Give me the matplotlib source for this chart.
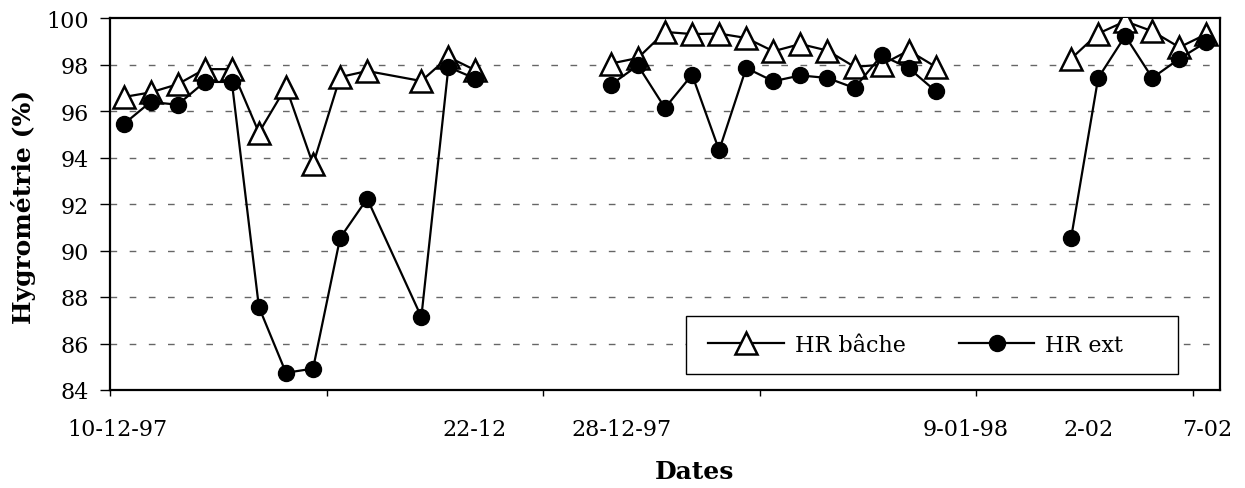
import numpy as np
import matplotlib
matplotlib.use("Agg")
import matplotlib.pyplot as plt
from matplotlib.patches import Rectangle

plt.rcParams['font.family'] = ['DejaVu Serif']

# ---- data ----
# category index of each measurement on the chart (None = break between periods)
cat_index = [0, 1, 2, 3, 4, 5, 6, 7, 8, 9, 11, 12, 13, None,
             18, 19, 20, 21, 22, 23, 24, 25, 26, 27, 28, 29, 30, None,
             35, 36, 37, 38, 39, 40]
hr_bache = [96.6, 96.8, 97.15, 97.8, 97.8, 95.07, 97.03, 93.7, 97.46, 97.72, 97.29, 98.32, 97.75, None,
            98.04, 98.28, 99.4, 99.31, 99.33, 99.14, 98.57, 98.88, 98.6, 97.9, 97.99, 98.6, 97.9, None,
            98.25, 99.33, 99.86, 99.43, 98.74, 99.31]
hr_ext = [95.43, 96.39, 96.27, 97.25, 97.25, 87.57, 84.74, 84.92, 90.54, 92.23, 87.14, 97.89, 97.39, None,
          97.13, 97.96, 96.13, 97.56, 94.31, 97.85, 97.28, 97.53, 97.42, 96.99, 98.39, 97.85, 96.85, None,
          90.54, 97.42, 99.23, 97.42, 98.25, 98.97]
n_categories = 41
date_labels = ["10-12-97", "22-12", "28-12-97", "9-01-98", "2-02", "7-02"]
date_label_pos = [-0.24, 12.95, 18.41, 31.12, 35.63, 40.02]
y_ticks = [84, 86, 88, 90, 92, 94, 96, 98, 100]

def arr(v):
    return np.array([np.nan if a is None else a for a in v], dtype=float)

x = arr(cat_index)
yb = arr(hr_bache)
ye = arr(hr_ext)

fig = plt.figure(figsize=(12.45, 4.89), dpi=100)
ax = fig.add_axes([110/1245, 1 - 391/489, 1110/1245, 372/489])

ax.plot(x, yb, color='black', lw=1.6, marker='^', ms=15.5, mfc='white', mec='black', mew=1.8,
        label='HR bâche', zorder=3)
ax.plot(x, ye, color='black', lw=1.6, marker='o', ms=11.5, mfc='black', mec='black',
        label='HR ext', zorder=4)

ax.set_xlim(-0.5, n_categories - 0.5)
ax.set_ylim(84, 100)
ax.set_yticks(y_ticks)
ax.set_yticklabels([str(v) for v in y_ticks], fontsize=16)
for v in y_ticks[1:-1]:
    ax.axhline(v, color='#666666', lw=1.0, ls=(0, (4.8, 9)), zorder=1)

ax.set_xticks(np.arange(-0.5, n_categories, 8))
ax.set_xticklabels([])
ax.set_xticks(date_label_pos, minor=True)
ax.set_xticklabels(date_labels, minor=True, fontsize=16)
ax.tick_params(axis='x', which='major', direction='out', length=4, width=1)
ax.tick_params(axis='x', which='minor', length=0, pad=20)
ax.tick_params(axis='y', which='major', direction='out', length=7, width=1, pad=8)

for s in ax.spines.values():
    s.set_linewidth(1.6)
    s.set_color('black')

ax.set_ylabel('Hygrométrie (%)', fontsize=18, fontweight='bold')
ax.yaxis.set_label_coords(-0.0665, 0.496)
ax.set_xlabel('Dates', fontsize=18, fontweight='bold')
ax.xaxis.set_label_coords((695 - 110) / 1110, -0.185)

# legend box
rect = Rectangle((0.5187, 0.043), 0.4433, 0.157, transform=ax.transAxes,
                 facecolor='white', edgecolor='black', lw=1.0, zorder=5)
ax.add_patch(rect)
leg = ax.legend(loc='center left', bbox_to_anchor=(0.5387, 0.121), ncol=2, frameon=False,
                handlelength=3.4, handletextpad=0.5, columnspacing=2.4,
                borderpad=0, borderaxespad=0, prop={'family': 'DejaVu Serif', 'size': 16})
leg.set_zorder(6)

fig.savefig('out.png', dpi=100)
